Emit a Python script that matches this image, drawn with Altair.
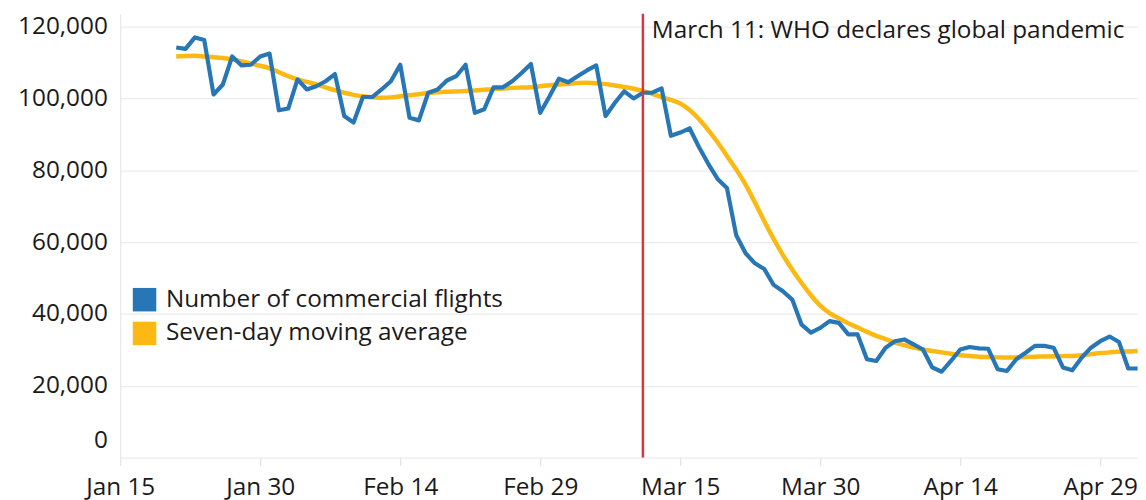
import altair as alt
import pandas as pd

# ---- data ----
start_date = "2020-01-21"
flights = [
    114200, 113800, 117000, 116300, 101100, 103900, 111700, 109200, 109400, 111700, 112500,
    96700, 97200, 105300, 102500, 103400, 104800, 106800, 95100, 93300, 100400, 100400,
    102500, 104800, 109400, 94600, 93900, 101600, 102500, 105000, 106200, 109400, 96000,
    97000, 103100, 103100, 104800, 107100, 109600, 96000,
    100600, 105500, 104500, 106200, 107800, 109200, 95100, 98800, 102000, 100000, 101600,
    101600, 102800, 89600, 90500, 91700, 86500, 81800, 77600, 75100, 61900, 56900, 54100,
    52500, 48100, 46300, 44000, 37000, 34800, 36100, 38000,
    37500, 34300, 34300, 27400, 26900, 30600, 32400, 32900, 31500, 30100, 25100, 23900,
    26900, 30100, 30800, 30400, 30300, 24600, 24100, 27400, 29200, 31100, 31100, 30600,
    25100, 24300, 27800, 30600, 32400, 33700,
    32200, 24800, 24800,
]
moving_avg = [
    111700, 111800, 111900, 111700, 111500, 111250, 110900, 110300, 109700, 109100, 108400,
    107300, 106200, 105300, 104600, 103900, 103100, 102300, 101600, 101000, 100600, 100300,
    100200, 100300, 100600, 100900, 101200, 101500, 101700, 101850, 101950, 102050, 102200,
    102400, 102600, 102800, 102950, 103050, 103150, 103400,
    103700, 103900, 104100, 104300, 104350, 104250, 104000, 103600, 103200, 102700, 102100,
    101300, 100400, 99600, 98600, 96800, 94300, 91200, 87800, 84000, 80200, 76000, 71000,
    65800, 60900, 56400, 52300, 48600, 45200, 42300, 40200,
    38800, 37400, 36200, 35000, 33900, 33000, 32000, 31300, 30600, 30100, 29700, 29300,
    28900, 28500, 28300, 28100, 28000, 27900, 27850, 27900, 28000, 28100, 28150, 28200,
    28250, 28300, 28500, 28800, 29100, 29300,
    29450, 29550, 29650,
]
series_names = ["Number of commercial flights", "Seven-day moving average"]
series_colors = ["#2776b6", "#fdb913"]
event_date = ["2020-03-11"]
event_label = ["March 11: WHO declares global pandemic"]
y_ticks = [0, 20000, 40000, 60000, 80000, 100000, 120000]
x_tick_days = [(1, 15), (1, 30), (2, 14), (2, 29), (3, 15), (3, 30), (4, 14), (4, 29)]

dates = pd.date_range(start_date, periods=len(flights), freq="D").strftime("%Y-%m-%d")
df = pd.concat([
    pd.DataFrame({"date": dates, "value": flights, "series": series_names[0]}),
    pd.DataFrame({"date": dates, "value": moving_avg, "series": series_names[1]}),
])
ev = pd.DataFrame({"date": event_date, "label": event_label})
legend_df = pd.DataFrame({"series": series_names})

FONT = "Open Sans"
FS = 24.5
TXT = "#1a1a1a"
GRID = "#ececec"

xscale = alt.Scale(
    type="utc",
    domain=[alt.DateTime(year=2020, month=1, date=15, utc=True),
            alt.DateTime(year=2020, month=5, date=3, hours=1, utc=True)],
)
yscale = alt.Scale(domain=[0, 123600], nice=False, zero=True)
color_scale = alt.Scale(domain=series_names, range=series_colors)

x_axis = alt.Axis(
    values=[alt.DateTime(year=2020, month=m, date=d, utc=True) for m, d in x_tick_days],
    labelExpr="utcFormat(datum.value, '%b %d')", grid=False, domain=False,
    ticks=True, tickSize=8, tickColor="#dcdcdc", tickWidth=1,
    labelFont=FONT, labelFontSize=FS, labelColor=TXT, labelPadding=10,
    labelFlush=False, labelOverlap=False, title=None,
)
y_axis = alt.Axis(
    values=y_ticks, format=",d", grid=True, gridColor=GRID, gridWidth=1.3,
    domain=True, domainColor="#e8e8e8", domainWidth=1.3, ticks=False,
    labelFont=FONT, labelFontSize=FS, labelColor=TXT, labelPadding=13,
    labelOffset={"condition": {"test": "datum.value === 0", "value": -17}, "value": 0},
    title=None,
)

base = alt.Chart(df).encode(
    x=alt.X("date:T", scale=xscale, axis=x_axis),
    y=alt.Y("value:Q", scale=yscale, axis=y_axis),
    color=alt.Color("series:N", scale=color_scale, legend=None),
)

avg_line = base.transform_filter(alt.datum.series == series_names[1]).mark_line(
    strokeWidth=4.5, interpolate="monotone"
)
flight_line = base.transform_filter(alt.datum.series == series_names[0]).mark_line(
    strokeWidth=4.2, strokeJoin="round"
)
lines = alt.layer(avg_line, flight_line)

rule = alt.Chart(ev).mark_rule(color="#d7383b", strokeWidth=2.5).encode(
    x=alt.X("date:T", scale=xscale)
)
label = alt.Chart(ev).mark_text(
    align="left", baseline="middle", dx=9, font=FONT, fontSize=FS, color=TXT
).encode(
    x=alt.X("date:T", scale=xscale), y=alt.value(17), text="label:N"
)

# legend drawn as marks: one row per series
leg_y = alt.Y("series:N", scale=alt.Scale(type="point", domain=series_names,
                                          range=[288, 322], padding=0), axis=None)
leg_sq = alt.Chart(legend_df).mark_square(size=560, opacity=1).encode(
    x=alt.value(24.5), y=leg_y,
    color=alt.Color("series:N", scale=color_scale, legend=None),
)
leg_tx = alt.Chart(legend_df).mark_text(
    align="left", baseline="middle", font=FONT, fontSize=FS, color=TXT
).encode(x=alt.value(46), y=leg_y, text="series:N")
legend = alt.layer(leg_sq, leg_tx)

chart = alt.layer(lines, rule, label, legend).resolve_scale(
    y="independent"
).properties(
    width=1025, height=447,
    autosize=alt.AutoSizeParams(type="none"),
    padding={"left": 113, "top": 4, "right": 0, "bottom": 45},
).configure_view(stroke=None)

chart.save("out.html", embed_options={"renderer": "svg", "actions": False})
